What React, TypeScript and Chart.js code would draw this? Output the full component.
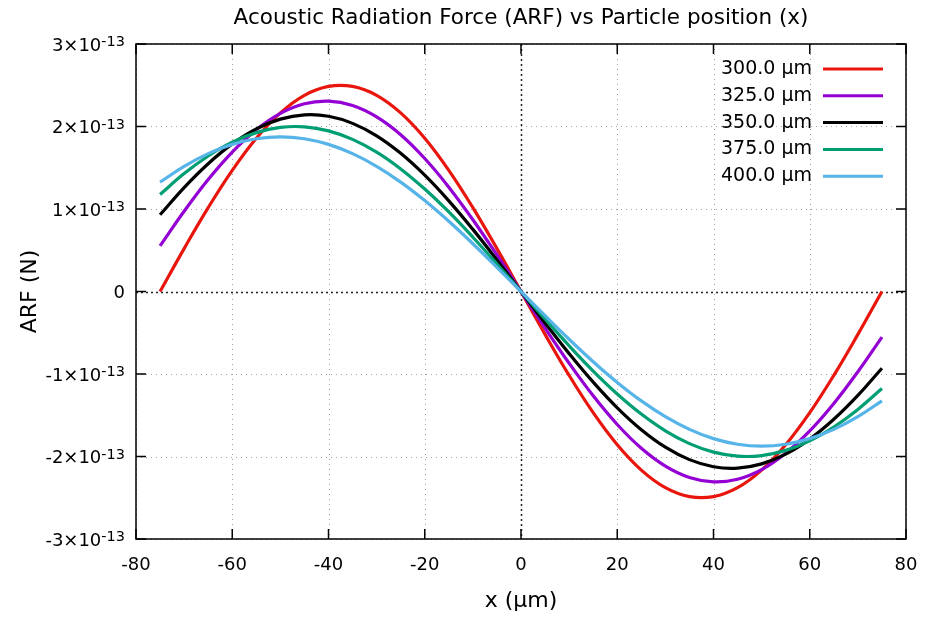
import React, { useEffect, useRef } from "react";
import { Chart, registerables } from "chart.js";

Chart.register(...registerables);

const TITLE = "Acoustic Radiation Force (ARF) vs Particle position (x)";
const X_TITLE = "x (µm)";
const Y_TITLE = "ARF (N)";
const xTicks = [-80, -60, -40, -20, 0, 20, 40, 60, 80];
const yTicks = [-3, -2, -1, 0, 1, 2, 3]; // units of 1e-13 N
const Y_EXP = "-13";

const xValues = [
  -75, -70, -65, -60, -55, -50, -45, -40, -35, -30, -25, -20, -15, -10, -5, 0,
  5, 10, 15, 20, 25, 30, 35, 40, 45, 50, 55, 60, 65, 70, 75,
];

// ARF values in units of 1e-13 N
const arf300 = [
  0, 0.52, 1.017, 1.469, 1.858, 2.165, 2.378, 2.486, 2.486, 2.378, 2.165, 1.858, 1.469, 1.017, 0.52, 0,
  -0.52, -1.017, -1.469, -1.858, -2.165, -2.378, -2.486, -2.486, -2.378, -2.165, -1.858, -1.469, -1.017, -0.52, 0,
];
const arf325 = [
  0.552, 0.972, 1.357, 1.69, 1.96, 2.158, 2.275, 2.307, 2.254, 2.116, 1.9, 1.612, 1.265, 0.87, 0.443, 0,
  -0.443, -0.87, -1.265, -1.612, -1.9, -2.116, -2.254, -2.307, -2.275, -2.158, -1.96, -1.69, -1.357, -0.972, -0.552,
];
const arf350 = [
  0.93, 1.26, 1.549, 1.789, 1.971, 2.089, 2.141, 2.124, 2.038, 1.887, 1.675, 1.41, 1.099, 0.753, 0.383, 0,
  -0.383, -0.753, -1.099, -1.41, -1.675, -1.887, -2.038, -2.124, -2.141, -2.089, -1.971, -1.789, -1.549, -1.26, -0.93,
];
const arf375 = [
  1.176, 1.429, 1.642, 1.81, 1.926, 1.989, 1.996, 1.947, 1.844, 1.689, 1.486, 1.242, 0.964, 0.658, 0.334, 0,
  -0.334, -0.658, -0.964, -1.242, -1.486, -1.689, -1.844, -1.947, -1.996, -1.989, -1.926, -1.81, -1.642, -1.429, -1.176,
];
const arf400 = [
  1.326, 1.517, 1.671, 1.783, 1.852, 1.875, 1.852, 1.783, 1.671, 1.517, 1.326, 1.102, 0.851, 0.579, 0.293, 0,
  -0.293, -0.579, -0.851, -1.102, -1.326, -1.517, -1.671, -1.783, -1.852, -1.875, -1.852, -1.783, -1.671, -1.517, -1.326,
];

const seriesLabels = ["300.0 µm", "325.0 µm", "350.0 µm", "375.0 µm", "400.0 µm"];
const seriesValues = [arf300, arf325, arf350, arf375, arf400];
const seriesColors = ["#e8160c", "#9400d3", "#000000", "#009e73", "#56b4e9"];

const FONT = "'DejaVu Sans', Verdana, sans-serif";

const gnuplotPlugin = {
  id: "gnuplotStyle",
  beforeDatasetsDraw(chart: any) {
    const { ctx, chartArea } = chart;
    const { left, right, top, bottom } = chartArea;
    const xs = chart.scales.x;
    const ys = chart.scales.y;
    ctx.save();
    for (const v of xTicks) {
      const px = Math.round(xs.getPixelForValue(v)) + 0.5;
      ctx.beginPath();
      if (v === 0) {
        ctx.strokeStyle = "#222";
        ctx.lineWidth = 1.5;
        ctx.setLineDash([2, 3]);
      } else {
        ctx.strokeStyle = "#a0a0a0";
        ctx.lineWidth = 1;
        ctx.setLineDash([1, 4]);
      }
      ctx.moveTo(px, top);
      ctx.lineTo(px, bottom);
      ctx.stroke();
    }
    for (const v of yTicks) {
      const py = Math.round(ys.getPixelForValue(v)) + 0.5;
      ctx.beginPath();
      if (v === 0) {
        ctx.strokeStyle = "#222";
        ctx.lineWidth = 1.5;
        ctx.setLineDash([2, 3]);
      } else {
        ctx.strokeStyle = "#a0a0a0";
        ctx.lineWidth = 1;
        ctx.setLineDash([1, 4]);
      }
      ctx.moveTo(left, py);
      ctx.lineTo(right, py);
      ctx.stroke();
    }
    ctx.restore();
  },
  afterDatasetsDraw(chart: any) {
    const { ctx, chartArea } = chart;
    const { left, right, top, bottom } = chartArea;
    const xs = chart.scales.x;
    const ys = chart.scales.y;
    ctx.save();
    ctx.setLineDash([]);
    ctx.strokeStyle = "#000";
    ctx.lineWidth = 1.5;
    ctx.strokeRect(left, top, right - left, bottom - top);
    const tl = 10;
    ctx.beginPath();
    for (const v of xTicks) {
      const px = xs.getPixelForValue(v);
      ctx.moveTo(px, bottom);
      ctx.lineTo(px, bottom - tl);
      ctx.moveTo(px, top);
      ctx.lineTo(px, top + tl);
    }
    for (const v of yTicks) {
      const py = ys.getPixelForValue(v);
      ctx.moveTo(left, py);
      ctx.lineTo(left + tl, py);
      ctx.moveTo(right, py);
      ctx.lineTo(right - tl, py);
    }
    ctx.stroke();

    ctx.fillStyle = "#000";
    ctx.font = `18px ${FONT}`;
    ctx.textAlign = "center";
    ctx.textBaseline = "middle";
    for (const v of xTicks) {
      ctx.fillText(String(v), xs.getPixelForValue(v), bottom + 26);
    }
    const rx = left - 11;
    ctx.textBaseline = "alphabetic";
    ctx.textAlign = "right";
    for (const v of yTicks) {
      const py = ys.getPixelForValue(v);
      if (v === 0) {
        ctx.font = `18px ${FONT}`;
        ctx.fillText("0", rx, py + 6.5);
        continue;
      }
      ctx.font = `14.5px ${FONT}`;
      const supW = ctx.measureText(Y_EXP).width;
      ctx.fillText(Y_EXP, rx, py + 2);
      ctx.font = `18px ${FONT}`;
      ctx.fillText(`${v}×10`, rx - supW, py + 6.5);
    }
    ctx.font = `21.5px ${FONT}`;
    ctx.textAlign = "center";
    ctx.textBaseline = "middle";
    ctx.fillText(TITLE, (left + right) / 2, 18);
    ctx.font = `22px ${FONT}`;
    ctx.fillText(X_TITLE, (left + right) / 2, bottom + 62);
    ctx.save();
    ctx.translate(30, (top + bottom) / 2);
    ctx.rotate(-Math.PI / 2);
    ctx.fillText(Y_TITLE, 0, 0);
    ctx.restore();

    ctx.font = `19px ${FONT}`;
    ctx.textAlign = "right";
    ctx.textBaseline = "middle";
    const textRight = right - 94;
    const lineX1 = right - 83;
    const lineX2 = right - 23;
    chart.data.datasets.forEach((ds: any, i: number) => {
      const y = top + 25 + i * 26.8;
      ctx.fillStyle = "#000";
      ctx.fillText(ds.label, textRight, y);
      ctx.strokeStyle = ds.borderColor;
      ctx.lineWidth = 3;
      ctx.beginPath();
      ctx.moveTo(lineX1, y);
      ctx.lineTo(lineX2, y);
      ctx.stroke();
    });
    ctx.restore();
  },
};

export default function App() {
  const canvasRef = useRef<HTMLCanvasElement | null>(null);

  useEffect(() => {
    document.body.style.margin = "0";
    const canvas = canvasRef.current;
    if (!canvas) return;
    const chart = new Chart(canvas, {
      type: "line",
      data: {
        datasets: seriesValues.map((vals, i) => ({
          label: seriesLabels[i],
          data: xValues.map((x, j) => ({ x, y: vals[j] })),
          borderColor: seriesColors[i],
          backgroundColor: seriesColors[i],
          borderWidth: 3.2,
          pointRadius: 0,
          tension: 0.4,
          fill: false,
          order: seriesValues.length - i,
        })),
      },
      options: {
        animation: false,
        responsive: false,
        devicePixelRatio: 1,
        layout: { padding: { left: 0, top: 44, right: 29, bottom: 0 } },
        plugins: {
          legend: { display: false },
          title: { display: false },
          tooltip: { enabled: false },
        },
        scales: {
          x: {
            type: "linear",
            min: -80,
            max: 80,
            ticks: { display: false, stepSize: 20 },
            grid: { display: false },
            border: { display: false },
            afterFit: (s: any) => {
              s.height = 78;
            },
          },
          y: {
            type: "linear",
            min: -3,
            max: 3,
            ticks: { display: false, stepSize: 1 },
            grid: { display: false },
            border: { display: false },
            afterFit: (s: any) => {
              s.width = 136;
            },
          },
        },
      },
      plugins: [gnuplotPlugin],
    } as any);
    return () => chart.destroy();
  }, []);

  return (
    <canvas
      ref={canvasRef}
      width={935}
      height={617}
      style={{ display: "block", width: 935, height: 617 }}
    />
  );
}
